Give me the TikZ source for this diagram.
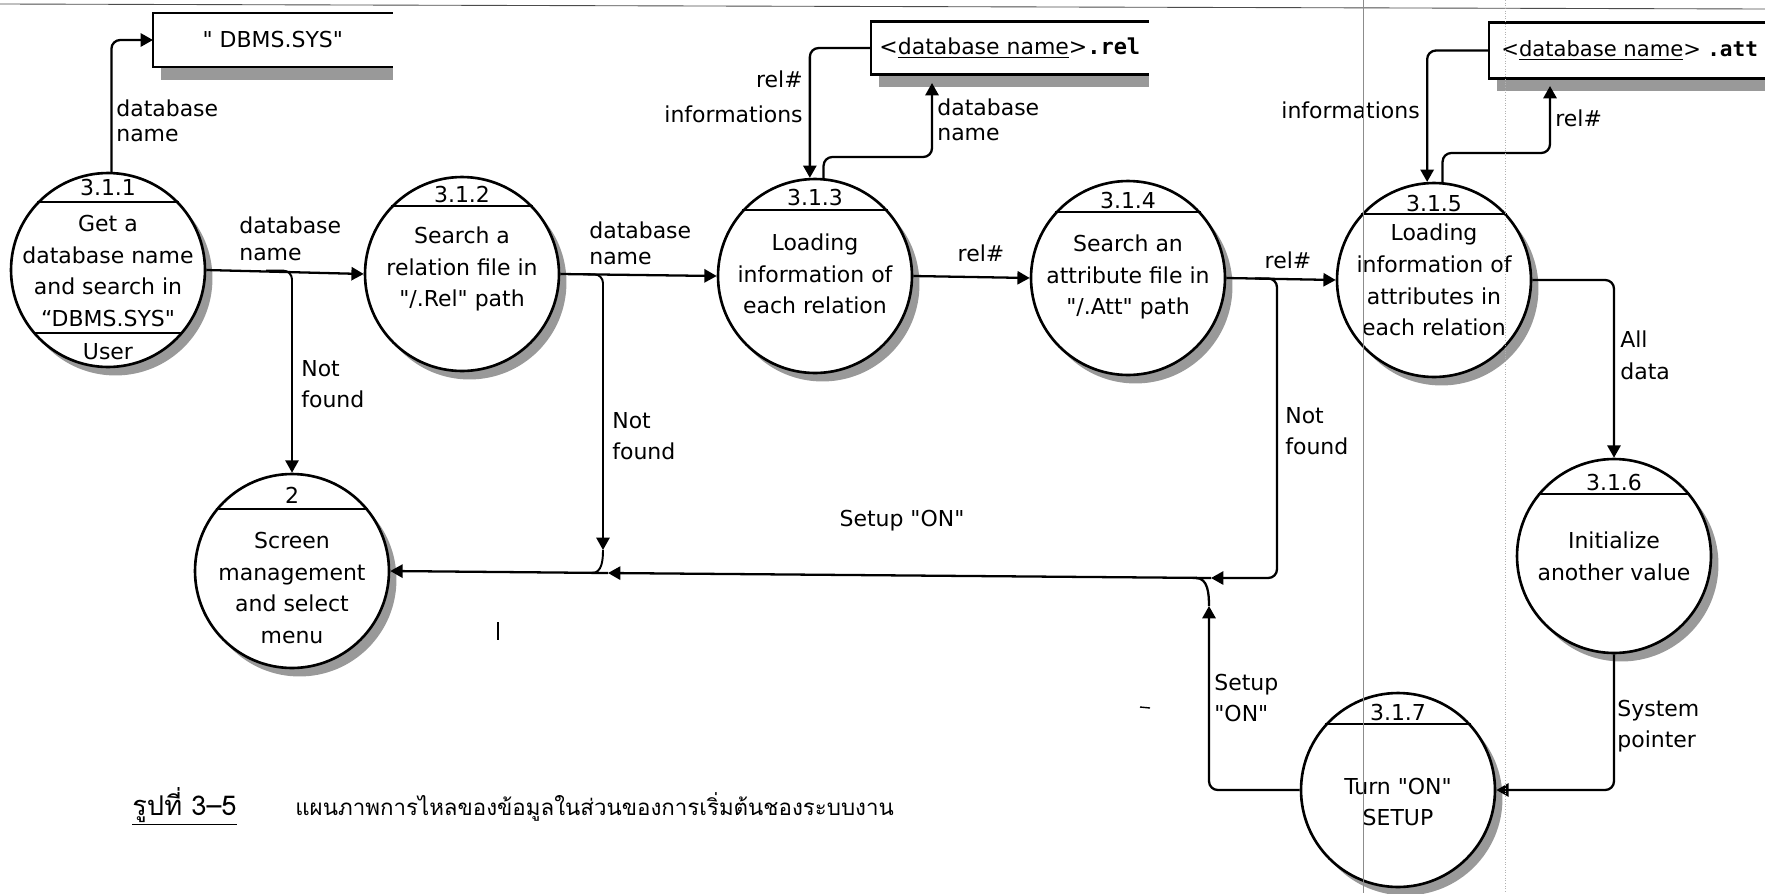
\documentclass[tikz,border=0pt]{standalone}
\usepackage{fontspec}
\setmainfont{DejaVu Sans}
\setmonofont{DejaVu Sans Mono}
\newfontfamily\thaifont[Script=Thai]{Loma}
\usetikzlibrary{arrows.meta,shadows}
\newcommand{\qt}{\textquotedbl}

\tikzset{
  proc/.style={circle, draw, line width=1.5pt, fill=white, minimum size=3.88cm, inner sep=0pt,
    drop shadow={shadow xshift=0.15cm, shadow yshift=-0.17cm, fill=black!40, opacity=1}},
  ptext/.style={align=center, inner sep=0pt, font=\fontsize{12.5}{18}\selectfont},
  pnum/.style={inner sep=0pt, font=\fontsize{12.5}{15}\selectfont},
  lbl/.style={align=left, inner sep=0pt, font=\fontsize{12.5}{18}\selectfont},
  store/.style={anchor=west, inner sep=0pt, font=\fontsize{12.5}{15}\selectfont},
  storeline/.style={line width=1.5pt},
  flow/.style={line width=1.3pt, rounded corners=5pt, -{Triangle[length=7pt,width=7.5pt]}},
  conn/.style={line width=1.3pt, rounded corners=5pt},
  scan/.style={line width=0.5pt}
}

\begin{document}
\begin{tikzpicture}[x=0.02cm, y=-0.02cm]
  \useasboundingbox (0,0) rectangle (1765,893);

  % data stores
  \node[store, minimum width=4.78cm, minimum height=1.06cm] (sDBMS) at (153,40) {\qt{} DBMS.SYS\qt};
  \fill[black!40] ([xshift=0.16cm]sDBMS.south west) rectangle ([yshift=-0.26cm]sDBMS.south east);
  \draw[storeline] (sDBMS.north east) -- (sDBMS.north west) -- (sDBMS.south west) -- (sDBMS.south east);

  \node[store, minimum width=5.54cm, minimum height=1.04cm] (sRel) at (871,48)
    {\textless\underline{database name}\textgreater{\ttfamily\bfseries .rel}};
  \fill[black!40] ([xshift=0.16cm]sRel.south west) rectangle ([yshift=-0.26cm]sRel.south east);
  \draw[storeline] (sRel.north east) -- (sRel.north west) -- (sRel.south west) -- (sRel.south east);

  \node[store, minimum height=1.1cm, inner xsep=0.24cm, font=\fontsize{12}{15}\selectfont] (sAtt) at (1489,50.5)
    {\textless\underline{database name}\textgreater\hspace{0.3em}{\ttfamily\bfseries .att}};
  \fill[black!40] ([xshift=0.16cm]sAtt.south west) rectangle ++(300,13);
  \draw[storeline] (sAtt.north west) ++(300,0) -- (sAtt.north west) -- (sAtt.south west) -- ++(300,0);

  % processes
  \node[proc] (p311) at (108,270) {};
  \draw[line width=1.3pt] (p311.136) -- (p311.44);
  \draw[line width=1.3pt] (p311.-140) -- (p311.-40);
  \node[pnum] at (108,188) {3.1.1};
  \node[ptext] at (108,271) {Get a\\database name\\and search in\\“DBMS.SYS\qt};
  \node[pnum] at (108,352) {User};

  \node[proc] (p312) at (462,274) {};
  \draw[line width=1.3pt] (p312.136) -- (p312.44);
  \node[pnum] at (462,194) {3.1.2};
  \node[ptext] at (462,269) {Search a\\relation file in\\\qt/.Rel\qt{} path};

  \node[proc] (p313) at (815,276) {};
  \draw[line width=1.3pt] (p313.138) -- (p313.42);
  \node[pnum] at (815,197) {3.1.3};
  \node[ptext] at (815,274) {Loading\\information of\\each relation};

  \node[proc] (p314) at (1128,278) {};
  \draw[line width=1.3pt] (p314.138) -- (p314.42);
  \node[pnum] at (1128,200) {3.1.4};
  \node[ptext] at (1128,277) {Search an\\attribute file in\\\qt/.Att\qt{} path};

  \node[proc] (p315) at (1434,280) {};
  \draw[line width=1.3pt] (p315.138) -- (p315.42);
  \node[pnum] at (1434,203) {3.1.5};
  \node[ptext] at (1434,280) {Loading\\information of\\attributes in\\each relation};

  \node[proc] (p316) at (1614,556) {};
  \draw[line width=1.3pt] (p316.141) -- (p316.39);
  \node[pnum] at (1614,482) {3.1.6};
  \node[ptext] at (1614,556) {Initialize\\another value};

  \node[proc] (p317) at (1398,790) {};
  \draw[line width=1.3pt] (p317.138) -- (p317.42);
  \node[pnum] at (1398,712) {3.1.7};
  \node[ptext] at (1398,802) {Turn \qt ON\qt\\SETUP};

  \node[proc] (p2) at (292,571) {};
  \draw[line width=1.3pt] (p2.141) -- (p2.39);
  \node[pnum] at (292,495) {2};
  \node[ptext] at (292,588) {Screen\\management\\and select\\menu};

  % flows to and from the stores
  \draw[flow] (p311.88) |- (sDBMS.west);
  \node[lbl, anchor=west, font=\fontsize{12.5}{14.5}\selectfont] (lDb1) at (116,121) {database\\name};

  \coordinate (relIn) at (932,83);
  \draw[flow] (sRel.west) -| (p313.93);
  \draw[flow] (p313.85) |- (880,157) -| (relIn);
  \node[lbl, anchor=east, align=right, font=\fontsize{12.5}{20}\selectfont] (lRelInfo) at (803,97) {rel\#\\informations};
  \node[lbl, anchor=west, font=\fontsize{12.5}{14.5}\selectfont] (lDb3) at (937,120) {database\\name};

  \coordinate (attIn) at (1550,86);
  \draw[flow] (sAtt.west) -| (p315.94);
  \draw[flow] (p315.85) |- (1500,153) -| (attIn);
  \node[lbl, anchor=east] (lAttInfo) at (1420,110) {informations};
  \node[lbl, anchor=west] (lAttRel) at (1555,118) {rel\#};

  % main chain
  \draw[flow] (p311.east) -- (p312.west);
  \node[lbl, anchor=west, font=\fontsize{12.5}{15.3}\selectfont] (lDb2) at (239,239) {database\\name};
  \draw[flow] (p312.east) -- (p313.west);
  \node[lbl, anchor=west, font=\fontsize{12.5}{15}\selectfont] (lDb4) at (589,243) {database\\name};
  \draw[flow] (p313.east) -- (p314.west);
  \node[lbl] (lRel1) at (981,253) {rel\#};
  \draw[flow] (p314.east) -- (p315.west);
  \node[lbl] (lRel2) at (1288,260) {rel\#};
  \draw[flow] (p315.east) -| (p316.north);
  \node[lbl, anchor=west] (lAll) at (1620,355) {All\\data};
  \draw[flow] (p316.south) |- (p317.east);
  \node[lbl, anchor=west] (lSys) at (1617,726) {System\\pointer};

  % not found branches and setup line
  \coordinate (nf1) at (266,270.6);
  \coordinate (nf2) at (583,274.3);
  \coordinate (nf4) at (1255,278.5);
  \coordinate (nfEnd) at (603,550);
  \coordinate (jL) at (608,573);
  \coordinate (jR) at (1211,578);
  \coordinate (suEnd) at (1209,606);

  \draw[flow, line width=1.1pt] (nf1) -| (p2.north);
  \node[lbl, anchor=west] (lNf1) at (301,384) {Not\\found};
  \draw[flow, line width=1.1pt] (nf2) -| (nfEnd);
  \draw[conn, line width=1.1pt] (nfEnd) to[out=-90,in=0] (592,573);
  \node[lbl, anchor=west] (lNf2) at (612,436) {Not\\found};
  \draw[flow] (nf4) -| (1277,578) -- (jR);
  \node[lbl, anchor=west] (lNf4) at (1285,431) {Not\\found};

  \draw[flow] (p317.west) -| (suEnd);
  \draw[conn] (suEnd) to[out=90,in=0] (1196,578);
  \node[lbl, anchor=west] (lSu2) at (1214,698) {Setup\\\qt ON\qt};
  \draw[flow] (jR) -- (jL);
  \draw[flow] (jL) -- (p2.east);
  \node[lbl] (lSu1) at (902,521) {Setup \qt ON\qt};

  % caption
  \node[anchor=base west, inner sep=0pt, font=\thaifont\fontsize{15.5}{17}\selectfont] (capNum) at (132,815) {\underline{รูปที่ 3–5}};
  \node[anchor=base west, inner sep=0pt, font=\thaifont\fontsize{12.7}{16}\selectfont] (capText) at (295,815) {แผนภาพการไหลของข้อมูลในส่วนของการเริ่มต้นชองระบบงาน};

  % scan marks
  \draw[scan, black!70] (0,4) -- (1765,9);
  \draw[scan, black!45] (1363,0) -- (1363,893);
  \draw[scan, black!30, densely dotted] (1505,0) -- (1505,893);
  \draw[line width=0.8pt] (498,622) -- (498,640);
  \draw[line width=0.8pt] (1140,707) -- (1150,708);
\end{tikzpicture}
\end{document}
